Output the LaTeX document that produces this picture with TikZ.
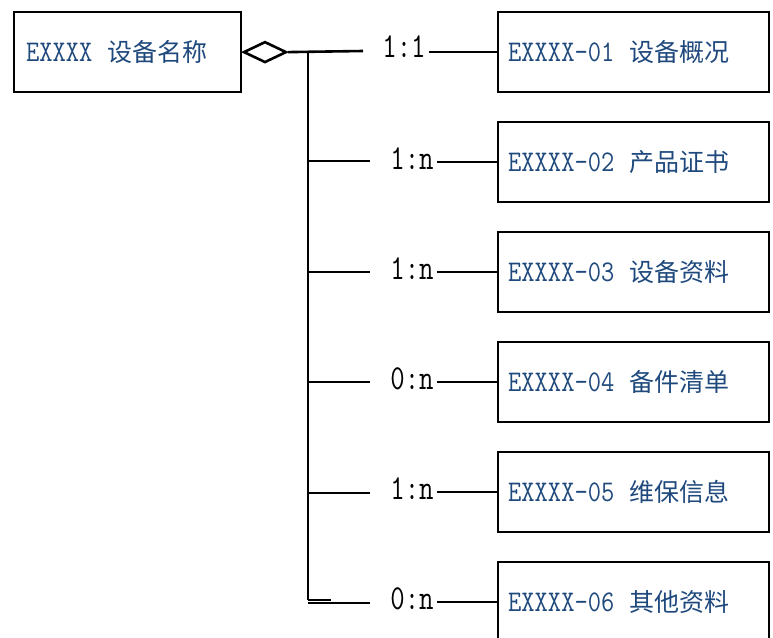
\documentclass[tikz,border=0pt]{standalone}
\usepackage{fontspec}
\usetikzlibrary{shapes.geometric}
\newfontfamily\cjk{Noto Sans CJK SC}
\newfontfamily\lat[FakeStretch=0.86]{Latin Modern Mono}
\newfontfamily\lab[FakeStretch=0.8]{Latin Modern Mono}
\definecolor{txtblue}{RGB}{31,73,125}
\newcommand{\boxtxt}[2]{{\fontsize{30}{30}\selectfont\lat #1}\hspace{15pt}{\fontsize{25}{25}\selectfont\cjk #2}}
\begin{document}
\begin{tikzpicture}[x=1pt,y=-1pt,line width=2.6pt,
  rbox/.style={draw,line width=2.2pt,anchor=north west,text width=251pt,align=left,
    inner xsep=10pt,inner ysep=0pt,minimum height=80pt,text=txtblue},
  lbox/.style={draw,line width=2.2pt,anchor=north west,text width=203pt,align=left,
    inner xsep=12pt,inner ysep=0pt,minimum height=80pt,text=txtblue},
  card/.style={font=\lab\fontsize{35}{35}\selectfont,inner sep=2pt,text=black}]
\useasboundingbox (0,0) rectangle (773,637);
% main entity
\node[lbox] (L) at (13,11) {\boxtxt{EXXXX}{设备名称}};
\node[diamond,draw,aspect=2,minimum width=43pt,minimum height=21pt,inner sep=0pt,anchor=west] (dia) at (L.east) {};
% trunk
\coordinate (j0) at (308,51);
\coordinate (jend) at (308,600);
\coordinate (t1) at (363,51);
\draw (dia.east) -- (t1);
\draw (j0) -- (jend);
% row 1
\node[rbox] (b1) at (497,11) {\boxtxt{EXXXX-01}{设备概况}};
\node[card] (l1) at (404,47) {1:1};
\draw (l1.east |- b1.west) -- (b1.west);
% rows 2-6
\node[rbox] (b2) at (497,121) {\boxtxt{EXXXX-02}{产品证书}};
\node[rbox] (b3) at (497,231) {\boxtxt{EXXXX-03}{设备资料}};
\node[rbox] (b4) at (497,341) {\boxtxt{EXXXX-04}{备件清单}};
\node[rbox] (b5) at (497,451) {\boxtxt{EXXXX-05}{维保信息}};
\node[rbox] (b6) at (497,561) {\boxtxt{EXXXX-06}{其他资料}};
\node[card] (l2) at (412,159) {1:n};
\node[card] (l3) at (412,269) {1:n};
\node[card] (l4) at (412,379) {0:n};
\node[card] (l5) at (412,489) {1:n};
\node[card] (l6) at (412,599) {0:n};
\foreach \i/\y in {2/161,3/272,4/382,5/493}{
  \coordinate (s\i) at (308,\y);
  \coordinate (e\i) at (370,\y);
  \draw (s\i) -- (e\i);
  \draw (l\i.east |- b\i.west) -- (b\i.west);
}
% last row
\coordinate (s6) at (308,603);
\coordinate (e6) at (370,603);
\coordinate (k6) at (331,600);
\draw (s6) -- (e6);
\draw (jend) -- (k6);
\draw (l6.east |- b6.west) -- (b6.west);
\end{tikzpicture}
\end{document}
